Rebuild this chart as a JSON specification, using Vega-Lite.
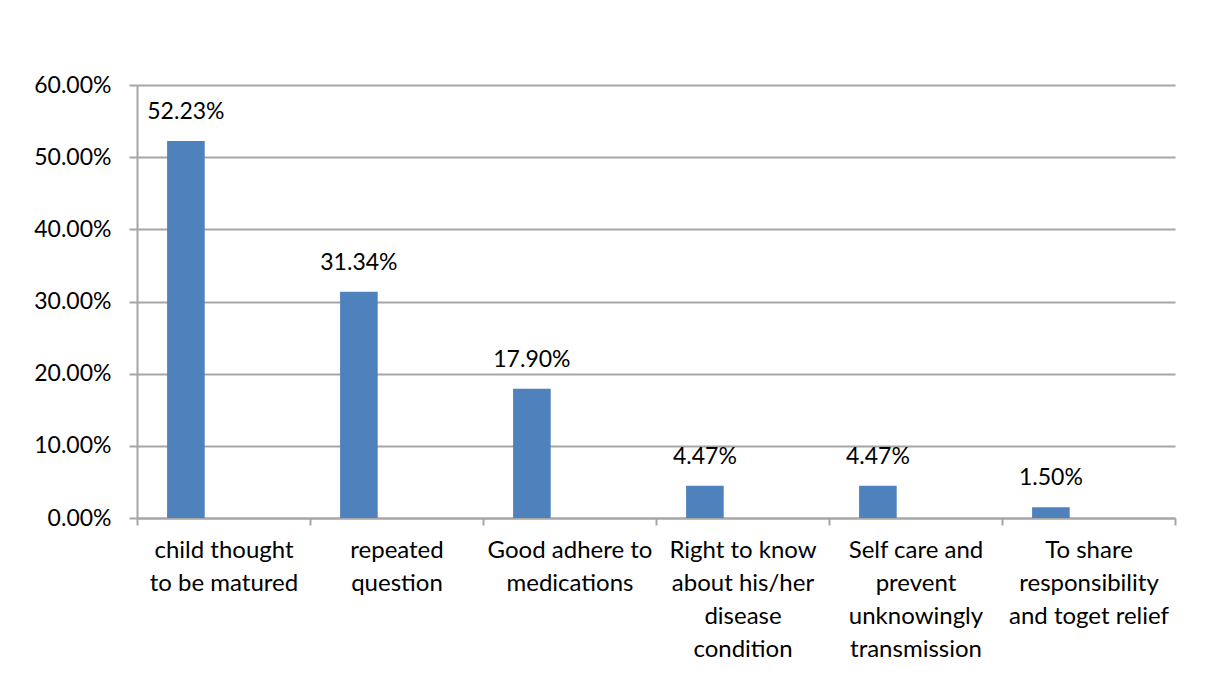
{
  "$schema": "https://vega.github.io/schema/vega-lite/v6.json",
  "width": 1038,
  "height": 433,
  "autosize": {"type": "none"},
  "padding": {"left": 137, "top": 85, "right": 33, "bottom": 158},
  "background": "white",
  "config": {"view": {"stroke": null}, "font": "Lato"},
  "data": {
    "values": [
      {"category": "child thought|to be matured", "series": "a", "value": 0.5223},
      {"category": "repeated|question", "series": "a", "value": 0.3134},
      {"category": "Good adhere to|medications", "series": "a", "value": 0.179},
      {"category": "Right to know|about his/her|disease|condition", "series": "a", "value": 0.0447},
      {"category": "Self care and|prevent|unknowingly|transmission", "series": "a", "value": 0.0447},
      {"category": "To share|responsibility|and toget relief", "series": "a", "value": 0.015}
    ]
  },
  "encoding": {
    "x": {
      "field": "category",
      "type": "nominal",
      "sort": null,
      "scale": {"paddingInner": 0, "paddingOuter": 0},
      "axis": {
        "title": null,
        "labelExpr": "split(datum.label, '|')",
        "labelAngle": 0,
        "labelAlign": "center",
        "labelBaseline": "top",
        "tickBand": "extent",
        "tickSize": 7,
        "tickWidth": 2,
        "tickColor": "#a6a6a6",
        "domainColor": "#a6a6a6",
        "domainWidth": 2,
        "labelFontSize": 24,
        "labelLineHeight": 33,
        "labelPadding": 13,
        "labelColor": "#000000",
        "labelLimit": 220,
        "grid": false
      }
    },
    "xOffset": {
      "field": "series",
      "type": "nominal",
      "scale": {"domain": ["a", "b", "c"], "paddingInner": 0, "paddingOuter": 0.8}
    },
    "y": {
      "field": "value",
      "type": "quantitative",
      "scale": {"domain": [0, 0.6], "nice": false},
      "axis": {
        "title": null,
        "format": ".2%",
        "values": [0, 0.1, 0.2, 0.3, 0.4, 0.5, 0.6],
        "labelFontSize": 23,
        "labelColor": "#000000",
        "labelPadding": 18,
        "tickSize": 8,
        "tickWidth": 2,
        "tickColor": "#a6a6a6",
        "domainColor": "#a6a6a6",
        "domainWidth": 2,
        "grid": true,
        "gridColor": "#a6a6a6",
        "gridWidth": 2
      }
    }
  },
  "layer": [
    {"mark": {"type": "bar", "color": "#4F81BD"}},
    {
      "mark": {"type": "text", "baseline": "middle", "dy": -29, "fontSize": 23, "color": "#000000"},
      "encoding": {"text": {"field": "value", "type": "quantitative", "format": ".2%"}}
    }
  ]
}
